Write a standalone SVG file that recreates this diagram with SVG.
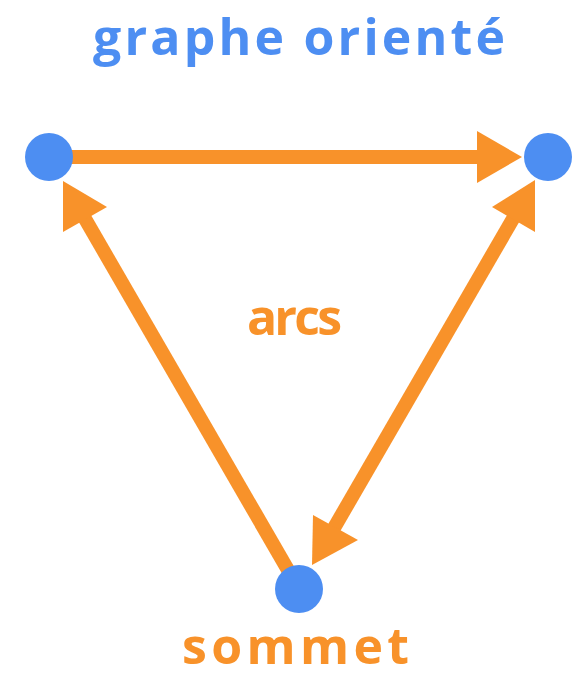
<svg xmlns="http://www.w3.org/2000/svg" width="578" height="676" viewBox="0 0 578 676">
<style>
.node{fill:#4D8EF2}
.arc{stroke:#F8922A;stroke-width:14;fill:none}
.head{fill:#F8922A}
.t{font-family:"Open Sans","Liberation Sans",sans-serif;font-weight:bold}
</style>
<rect width="578" height="676" fill="#ffffff"/>
<text class="t" x="93" y="55" font-size="50" fill="#4D8EF2" textLength="412" lengthAdjust="spacing">graphe orienté</text>
<g id="connectors">
<line class="arc" x1="70" y1="157" x2="480" y2="157"/>
<polygon class="head" points="522,157 477,131 477,183"/>
<line class="arc" x1="288" y1="570" x2="84" y2="217"/>
<polygon class="head" points="63,181 107,207 63,232"/>
<line class="arc" x1="514" y1="217" x2="334" y2="528"/>
<polygon class="head" points="535,180 492,207 535,232"/>
<polygon class="head" points="312,565 313,515 358,540"/>
</g>
<g id="n1"><circle class="node" cx="49" cy="157" r="24"/></g>
<g id="n2"><circle class="node" cx="548" cy="157" r="24"/></g>
<g id="n3"><circle class="node" cx="299" cy="589" r="24"/></g>
<text class="t" x="247" y="335" font-size="50" fill="#F8922A" textLength="95" lengthAdjust="spacing">arcs</text>
<text class="t" x="182" y="664" font-size="50" fill="#F8922A" textLength="227" lengthAdjust="spacing">sommet</text>
</svg>
